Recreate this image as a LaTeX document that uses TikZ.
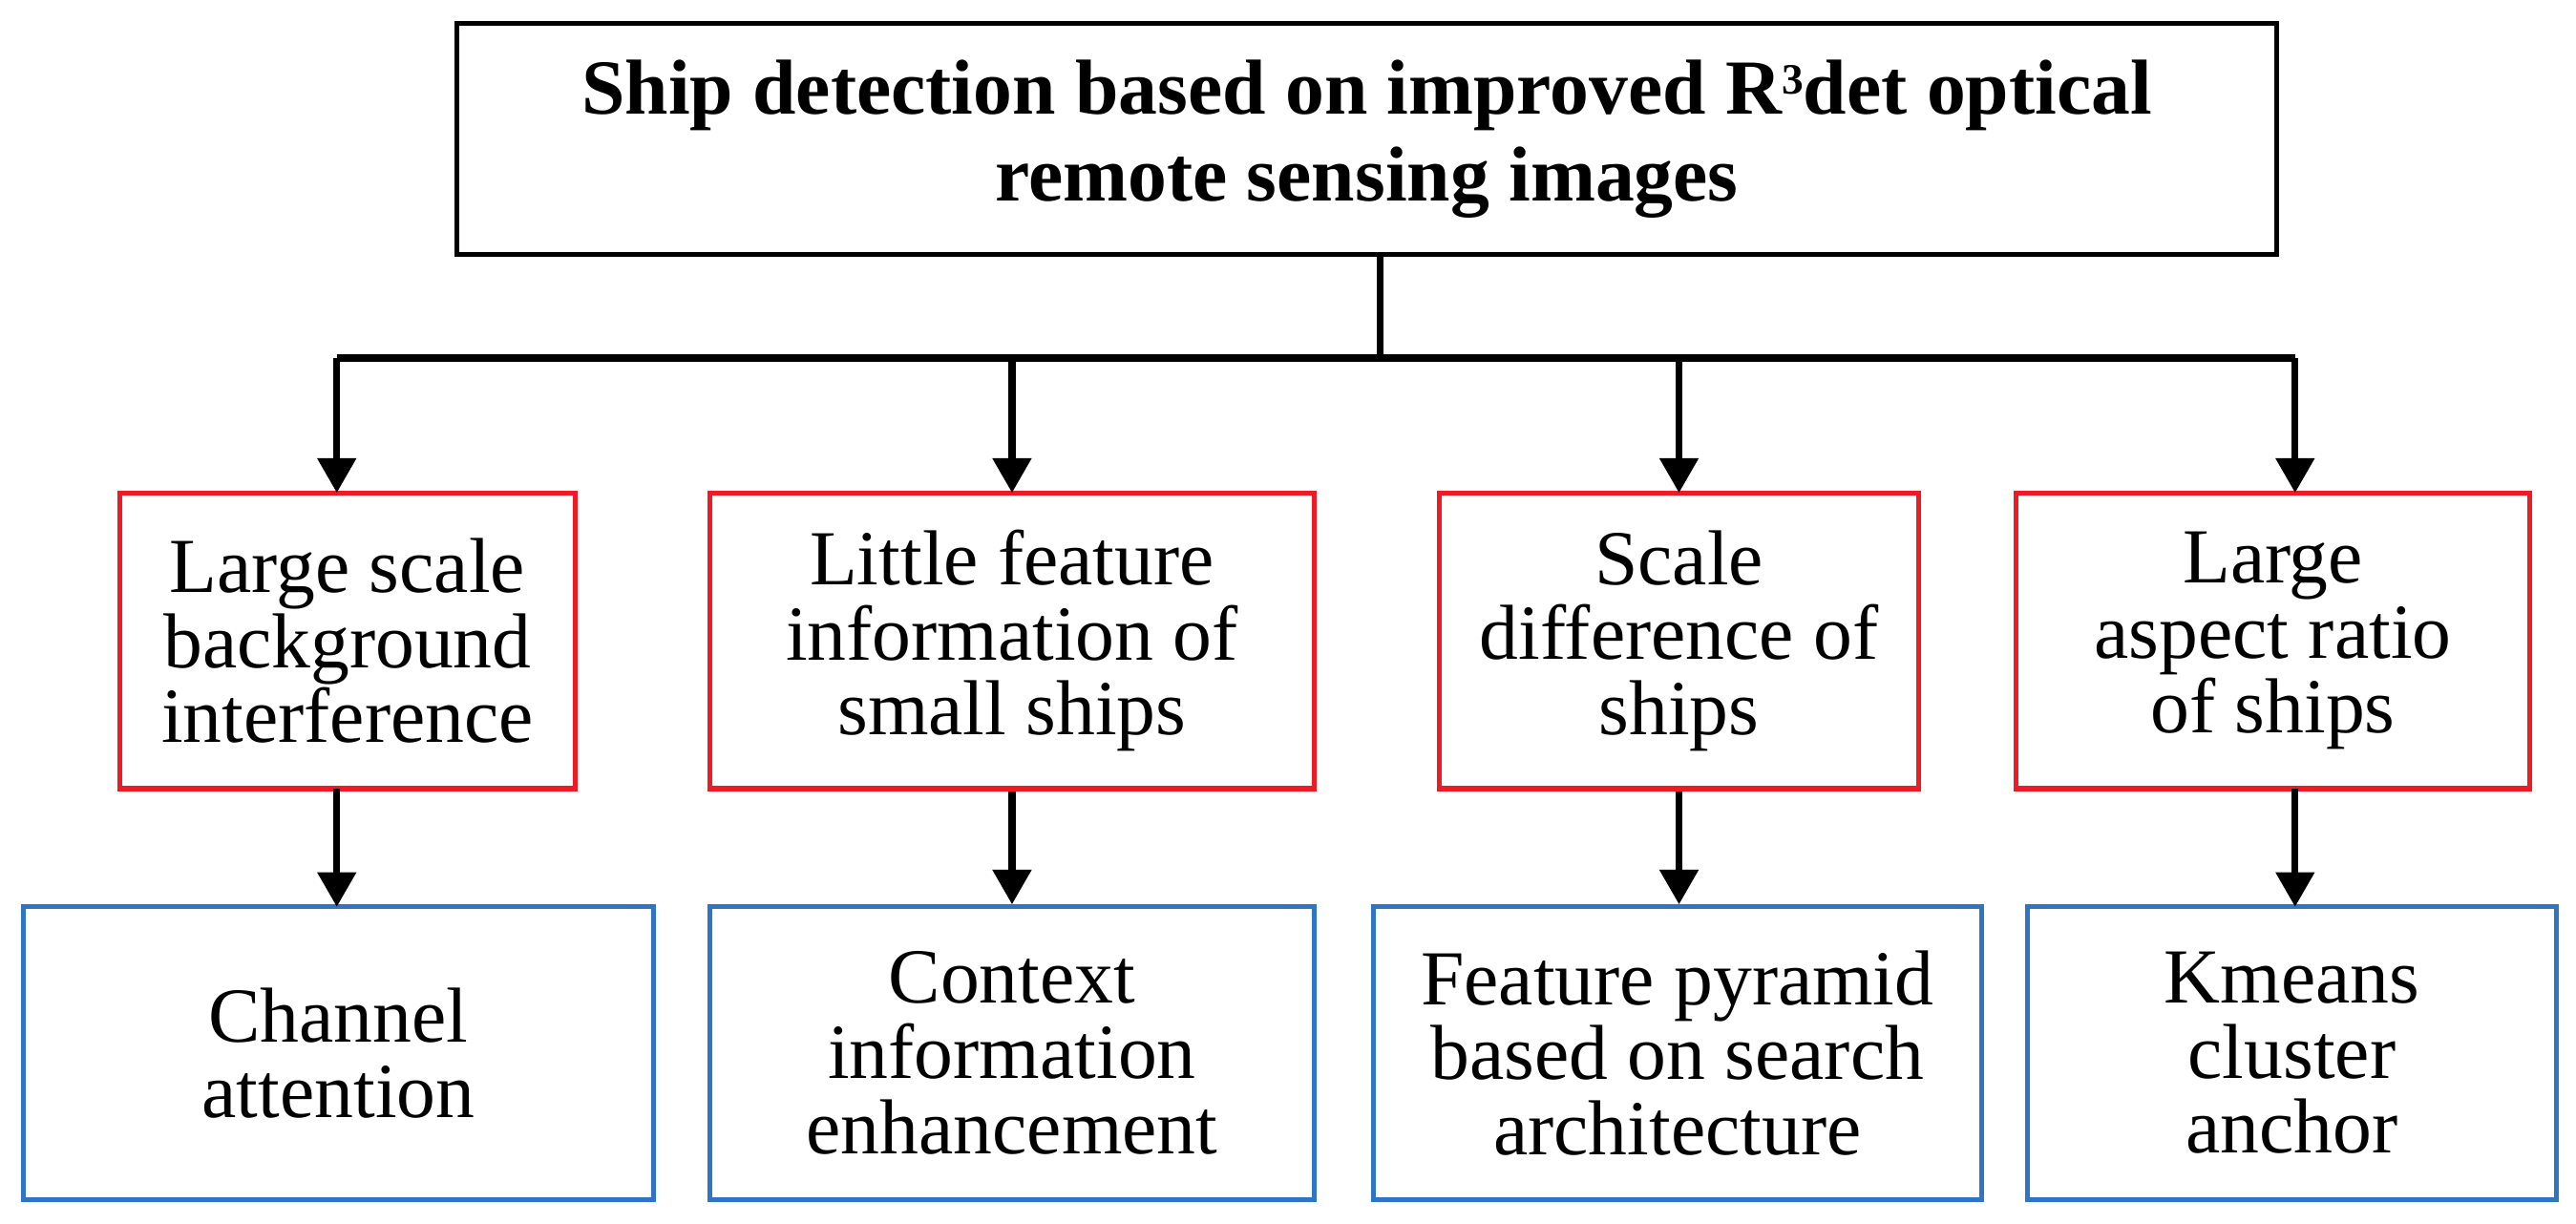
\documentclass[tikz,border=0pt]{standalone}
\usepackage{fontspec}
\setmainfont{Liberation Serif}
\usetikzlibrary{arrows.meta}
\definecolor{redb}{RGB}{237,28,36}
\definecolor{blueb}{RGB}{46,117,198}
\begin{document}
\begin{tikzpicture}[x=0.02cm,y=-0.02cm,
 box/.style={draw,line width=1.7pt,align=center,inner sep=0pt,font=\fontsize{27}{26}\selectfont},
 arr/.style={line width=2.4pt,-{Triangle[length=12pt,width=13pt]}},
 ln/.style={line width=2.4pt}]
\useasboundingbox (0,0) rectangle (1568,745);
\node[box,font=\bfseries\fontsize{27}{30}\selectfont,minimum width=1108*0.02cm,minimum height=141*0.02cm] (top) at (832,84.5) {Ship detection based on improved R\raisebox{0.55ex}{\fontsize{15}{15}\selectfont 3}det optical\\remote sensing images};
\node[box,draw=redb,minimum width=277*0.02cm,minimum height=180*0.02cm] (r1) at (211.5,390) {Large scale\\background\\interference};
\node[box,draw=redb,minimum width=368*0.02cm,minimum height=180*0.02cm] (r2) at (616,390) {Little feature\\information of\\small ships};
\node[box,draw=redb,minimum width=292*0.02cm,minimum height=180*0.02cm] (r3) at (1022,390) {Scale\\difference of\\ships};
\node[box,draw=redb,minimum width=313*0.02cm,minimum height=180*0.02cm] (r4) at (1383.5,390) {Large\\aspect ratio\\of ships};
\node[box,draw=blueb,minimum width=384*0.02cm,minimum height=178*0.02cm] (b1) at (206,641) {Channel\\attention};
\node[box,draw=blueb,minimum width=368*0.02cm,minimum height=178*0.02cm] (b2) at (616,641) {Context\\information\\enhancement};
\node[box,draw=blueb,minimum width=370*0.02cm,minimum height=178*0.02cm] (b3) at (1021,641) {Feature pyramid\\based on search\\architecture};
\node[box,draw=blueb,minimum width=322*0.02cm,minimum height=178*0.02cm] (b4) at (1395,641) {Kmeans\\cluster\\anchor};
\coordinate (j) at (840,218);
\coordinate (jl) at (205,218);
\coordinate (jr) at (1397,218);
\draw[ln] (top.south -| j) -- (j);
\draw[ln] (jl) -- (jr);
\foreach \x/\r in {205/r1,616/r2,1022/r3,1397/r4}{
 \draw[arr] (\x,218) -- (\x,300);
}
\draw[arr] (205,480) -- (205,552);
\draw[arr] (r2.south) -- (b2.north);
\draw[arr] (r3.south) -- (r3.south |- b3.north);
\draw[arr] (1397,480) -- (1397,552);
\end{tikzpicture}
\end{document}
